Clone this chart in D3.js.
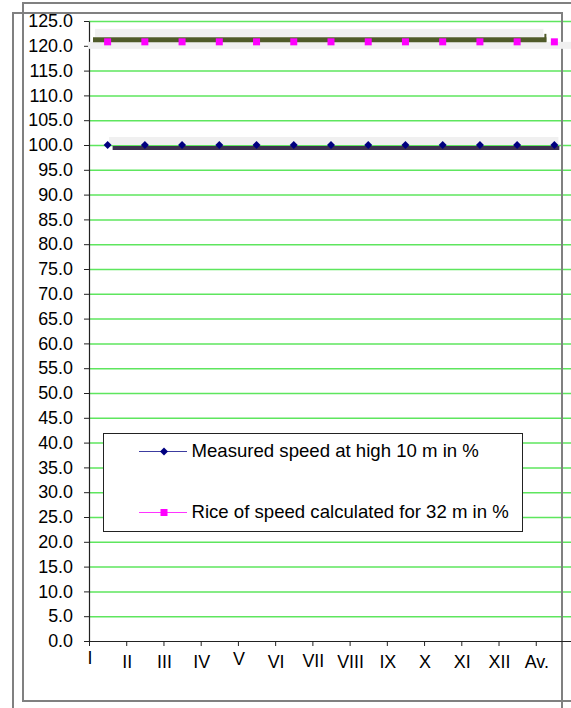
<!DOCTYPE html>
<html>
<head>
<meta charset="utf-8">
<script src="https://cdn.jsdelivr.net/npm/d3@7/dist/d3.min.js"></script>
<style>
  html, body { margin: 0; padding: 0; background: #fff; }
  svg { display: block; font-family: "Liberation Sans", Arial, sans-serif; }
</style>
</head>
<body>
<script>
// Months of the year plus the yearly average
const months = ["I", "II", "III", "IV", "V", "VI", "VII", "VIII", "IX", "X", "XI", "XII", "Av."];

// Wind speed at 10 m taken as the 100 % reference
const measured10m = [100, 100, 100, 100, 100, 100, 100, 100, 100, 100, 100, 100, 100];

// Speed extrapolated to 32 m, relative to the 10 m value
const calculated32m = [120.8, 120.8, 120.8, 120.8, 120.8, 120.8, 120.8, 120.8, 120.8, 120.8, 120.8, 120.8, 120.8];

// Value axis ticks
const yTickValues = [0, 5, 10, 15, 20, 25, 30, 35, 40, 45, 50, 55, 60, 65, 70, 75, 80, 85, 90, 95, 100, 105, 110, 115, 120, 125];

const seriesNames = [
  "Measured speed at high 10 m in %",
  "Rice of speed calculated for 32 m in %"
];

const W = 571, H = 708;
const plot = { left: 89, top: 21, bottom: 641, step: 37.23 };
const FONT = 17.9;

const svg = d3.select("body").append("svg")
  .attr("width", W).attr("height", H);

const x = d3.scaleBand()
  .domain(months)
  .range([plot.left, plot.left + plot.step * months.length])
  .paddingInner(0).paddingOuter(0);
const cx = d => x(d) + x.bandwidth() / 2;

const y = d3.scaleLinear().domain([0, 125]).range([plot.bottom, plot.top]);

// Horizontal gridlines
svg.append("g")
  .selectAll("line")
  .data(yTickValues.filter(v => v > 0))
  .join("line")
  .attr("x1", plot.left).attr("x2", W)
  .attr("y1", d => y(d) + 0.5).attr("y2", d => y(d) + 0.5)
  .attr("stroke", "#5ee65e").attr("stroke-width", 1.5);

// Outer frames
svg.append("path")
  .attr("d", `M${W},3 H23 V701 H${W}`)
  .attr("fill", "none").attr("stroke", "#808080").attr("stroke-width", 2);
svg.append("path")
  .attr("d", `M13,${H} V13 H562 V${H}`)
  .attr("fill", "none").attr("stroke", "#808080").attr("stroke-width", 2);

// Value axis
const yAxis = svg.append("g")
  .attr("transform", `translate(${plot.left},0)`)
  .call(d3.axisLeft(y).tickValues(yTickValues).tickFormat(d3.format(".1f"))
    .tickSize(5).tickPadding(11).tickSizeOuter(0));
yAxis.select(".domain").attr("stroke", "#222").attr("stroke-width", 1.2);
yAxis.selectAll(".tick line").attr("stroke", "#222");
yAxis.selectAll(".tick text")
  .attr("font-size", FONT).attr("fill", "#000")
  .attr("font-family", "'Liberation Sans', Arial, sans-serif");

// Category axis: ticks and labels sit on category boundaries
const xAxisG = svg.append("g").attr("transform", `translate(0,${plot.bottom})`);
xAxisG.append("line")
  .attr("x1", plot.left).attr("x2", W)
  .attr("y1", 0.5).attr("y2", 0.5)
  .attr("stroke", "#222").attr("stroke-width", 1.2);
xAxisG.selectAll("line.tick")
  .data(months)
  .join("line").attr("class", "tick")
  .attr("x1", d => x(d) + 0.5).attr("x2", d => x(d) + 0.5)
  .attr("y1", 0).attr("y2", 5)
  .attr("stroke", "#222");
const raised = { "I": -4, "V": -3, "VII": -1 };
xAxisG.selectAll("text")
  .data(months)
  .join("text")
  .attr("x", d => x(d) + 1)
  .attr("y", d => 27 + (raised[d] || 0))
  .attr("text-anchor", "middle")
  .attr("font-size", FONT)
  .attr("fill", "#000")
  .text(d => d);

// 32 m series: shaded bands and olive connecting bar
const first = months[0], last = months[months.length - 1];
const y32 = y(calculated32m[0]);
svg.append("rect")
  .attr("x", x(first) - 1).attr("y", y32)
  .attr("width", W - x(first) + 1).attr("height", 7)
  .attr("fill", "#f0f0f0");
svg.append("rect")
  .attr("x", x(first) + 6).attr("y", y32 - 13)
  .attr("width", cx(last) - 11 - (x(first) + 6)).attr("height", 8)
  .attr("fill", "#f0f0f0");
svg.append("path")
  .attr("d", d3.line().x(d => d[0]).y(d => d[1])([
    [x(first) + 4, y32 - 2],
    [cx(last) - 8, y32 - 2]
  ]))
  .attr("stroke", "#505b2a").attr("stroke-width", 5).attr("fill", "none");
svg.append("line")
  .attr("x1", cx(last) - 9).attr("x2", cx(last) - 9)
  .attr("y1", y32 - 8).attr("y2", y32)
  .attr("stroke", "#505b2a").attr("stroke-width", 2);

// 10 m series: shaded band and dark connecting bar
const y10 = y(measured10m[0]);
svg.append("rect")
  .attr("x", cx(first) + 1.5).attr("y", y10 - 8)
  .attr("width", cx(last) + 4 - (cx(first) + 1.5)).attr("height", 8)
  .attr("fill", "#f0f0f0");
svg.append("path")
  .attr("d", d3.line().x(d => cx(d.m) + 5).y(d => y(d.v) + 3)(
    months.map((m, i) => ({ m, v: measured10m[i] }))))
  .attr("stroke", "#3c3150").attr("stroke-width", 4).attr("fill", "none");

// Markers
const diamond = "M0,-4 L4,0 L0,4 L-4,0 Z";
svg.append("g").selectAll("path")
  .data(months.map((m, i) => ({ m, v: measured10m[i] })))
  .join("path")
  .attr("d", diamond)
  .attr("transform", d => `translate(${cx(d.m)},${y(d.v)})`)
  .attr("fill", "#000080");
svg.append("g").selectAll("rect")
  .data(months.map((m, i) => ({ m, v: calculated32m[i] })))
  .join("rect")
  .attr("x", d => cx(d.m) - 3.5).attr("y", d => y(d.v) - 3.5)
  .attr("width", 7).attr("height", 7)
  .attr("fill", "#ff00ff");

// Legend
const legend = svg.append("g");
legend.append("rect")
  .attr("x", 103.5).attr("y", 433.5).attr("width", 419).attr("height", 98)
  .attr("fill", "#fff").attr("stroke", "#222").attr("stroke-width", 1);
const legendRows = [
  { name: seriesNames[0], color: "#3c3ca0", marker: "diamond", fill: "#000080", ly: 451 },
  { name: seriesNames[1], color: "#ff33ff", marker: "square", fill: "#ff00ff", ly: 512 }
];
legendRows.forEach(r => {
  legend.append("line")
    .attr("x1", 139).attr("x2", 187)
    .attr("y1", r.ly + 0.5).attr("y2", r.ly + 0.5)
    .attr("stroke", r.color).attr("stroke-width", 1.2);
  if (r.marker === "diamond") {
    legend.append("path").attr("d", diamond)
      .attr("transform", `translate(164,${r.ly + 0.5})`).attr("fill", r.fill);
  } else {
    legend.append("rect")
      .attr("x", 160.5).attr("y", r.ly - 3).attr("width", 7).attr("height", 7)
      .attr("fill", r.fill);
  }
  legend.append("text")
    .attr("x", 191.5).attr("y", r.ly + 6)
    .attr("font-size", 18.6).attr("fill", "#000")
    .text(r.name);
});
</script>
</body>
</html>
